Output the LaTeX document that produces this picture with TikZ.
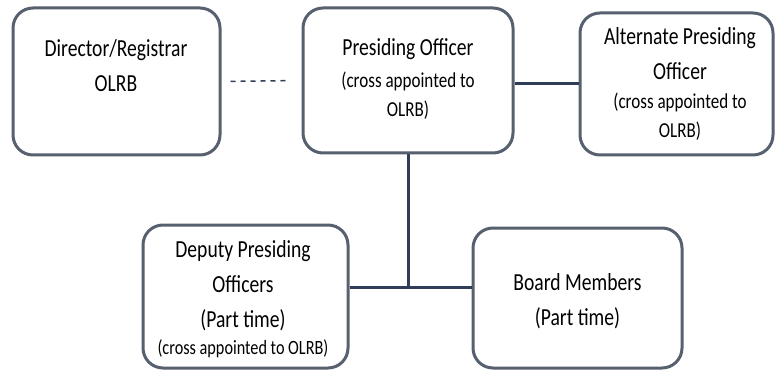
\documentclass[tikz,border=0pt]{standalone}
\usepackage{fontspec}
\newfontfamily\boxfont[FakeStretch=0.8]{Carlito}
\definecolor{boxline}{HTML}{56606E}
\definecolor{linkline}{HTML}{2F3D58}
\newcommand{\bigtxt}{\boxfont\fontsize{24.5}{35}\selectfont}
\newcommand{\smalltxt}{\fontsize{21.3}{30}\selectfont}

\begin{document}
\begin{tikzpicture}[x=1pt,y=-1pt,
   box/.style={draw=boxline,line width=3pt,rounded corners=20pt,fill=white,inner sep=0pt},
   txt/.style={align=center,font=\bigtxt,inner sep=0pt},
   link/.style={draw=linkline,line width=3pt}]
   \useasboundingbox (0,0) rectangle (775,371);
   % boxes
   \node (director) at (116.5,81.5) [box,minimum width=207pt,minimum height=147pt] {};
   \node (presiding) at (408,80.5) [box,minimum width=210pt,minimum height=145pt] {};
   \node (alternate) at (676.5,84) [box,minimum width=193pt,minimum height=142pt] {};
   \node (deputy) at (245.5,296.5) [box,minimum width=205pt,minimum height=143pt] {};
   \node (board) at (577.5,298) [box,minimum width=209pt,minimum height=140pt] {};
   % texts
   \node (directortxt) at (116,65.5) [txt] {Director/Registrar\\OLRB};
   \node (presidingtxt) at (408,78.5) [txt] {Presiding Officer\\[-3pt]{\smalltxt(cross appointed to}\\[-6pt]{\smalltxt OLRB)}};
   \node (alternatetxt) at (680,83.5) [txt] {Alternate Presiding\\Officer\\[-6pt]{\smalltxt(cross appointed to}\\[-6pt]{\smalltxt OLRB)}};
   \node (deputytxt) at (243,299.5) [txt] {Deputy Presiding\\Officers\\(Part time)\\[-8pt]{\fontsize{20.3}{28}\selectfont(cross appointed to OLRB)}};
   \node (boardtxt) at (577.5,301.5) [txt] {Board Members\\(Part time)};
   % connectors
   \coordinate (joint) at (presiding.south |- 0,287);
   \draw[draw=linkline,line width=1.5pt,dash pattern=on 5pt off 5pt,shorten <=9pt,shorten >=13pt] (director.east) -- (presiding.west);
   \draw[link] (presiding.east |- alternate.west) -- (alternate.west);
   \draw[link] (presiding.south) -- (joint);
   \draw[link] (deputy.east |- joint) -- (board.west |- joint);
\end{tikzpicture}
\end{document}
